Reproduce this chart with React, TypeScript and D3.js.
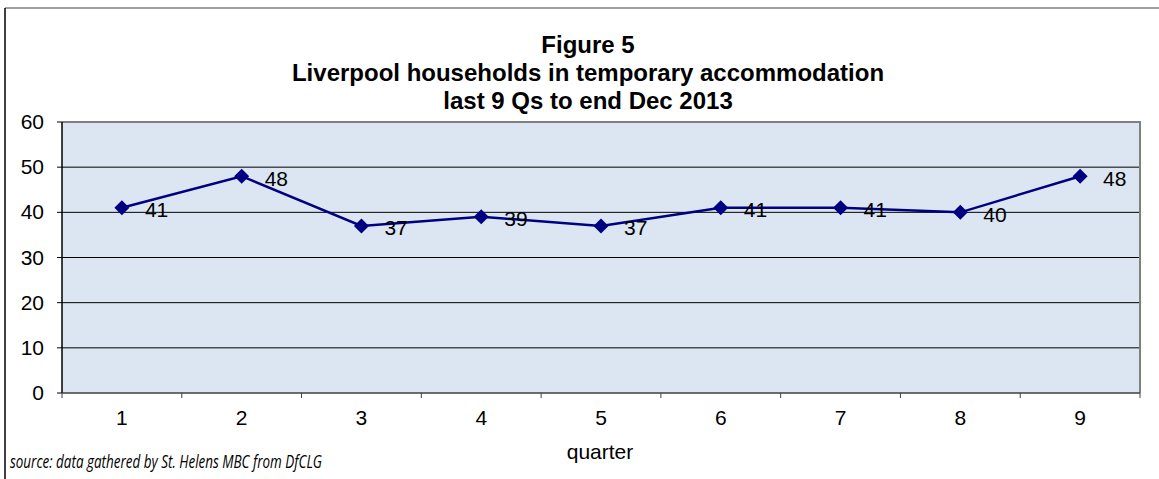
import React from "react";
import * as d3 from "d3";

const quarters = ["1", "2", "3", "4", "5", "6", "7", "8", "9"];
const households = [41, 48, 37, 39, 37, 41, 41, 40, 48];
const yTicks = [0, 10, 20, 30, 40, 50, 60];
const titleLines = [
  "Figure 5",
  "Liverpool households in temporary accommodation",
  "last 9 Qs to end Dec 2013",
];
const xAxisTitle = "quarter";
const sourceNote = "source: data gathered by St. Helens MBC from DfCLG";

export default function App() {
  const W = 1159;
  const H = 479;
  const left = 62;
  const right = 1140;
  const top = 122;
  const bottom = 393;

  const x = d3.scaleBand<string>().domain(quarters).range([left, right]).padding(0);
  const y = d3.scaleLinear().domain([0, 60]).range([bottom, top]);
  const cx = (q: string) => (x(q) as number) + x.bandwidth() / 2;

  const line = d3
    .line<number>()
    .x((_, i) => cx(quarters[i]))
    .y((d) => y(d));

  const boundaries = quarters.map((q) => x(q) as number).concat([right]);
  const font = "Arial, 'Liberation Sans', sans-serif";

  return (
    <svg
      width={W}
      height={H}
      style={{ position: "absolute", left: 0, top: 0, display: "block" }}
    >
      <rect x={0} y={0} width={W} height={H} fill="#ffffff" />
      {/* outer frame */}
      <line x1={5} y1={8} x2={W + 5} y2={8} stroke="#808080" strokeWidth={1.5} />
      <line x1={5} y1={8} x2={5} y2={H + 5} stroke="#000000" strokeWidth={1.5} />

      {/* title */}
      {titleLines.map((t, i) => (
        <text
          key={i}
          x={588}
          y={53 + i * 28}
          textAnchor="middle"
          fontFamily={font}
          fontWeight="bold"
          fontSize={24}
          fill="#000"
        >
          {t}
        </text>
      ))}

      {/* plot area */}
      <rect x={left} y={top} width={right - left} height={bottom - top} fill="#dce6f2" />
      {yTicks
        .filter((v) => v > 0 && v < 60)
        .map((v) => (
          <line key={v} x1={left} x2={right} y1={y(v)} y2={y(v)} stroke="#000" strokeWidth={1} />
        ))}
      <line x1={left} x2={right + 1} y1={top} y2={top} stroke="#808080" strokeWidth={2} />
      <line x1={right} x2={right} y1={top} y2={bottom} stroke="#808080" strokeWidth={2} />

      {/* y axis */}
      <line x1={left} x2={left} y1={top} y2={bottom} stroke="#000" strokeWidth={1.5} />
      {yTicks.map((v) => (
        <g key={v}>
          <line x1={left - 5} x2={left} y1={y(v)} y2={y(v)} stroke="#000" strokeWidth={1} />
          <text
            x={44}
            y={y(v) + 7}
            textAnchor="end"
            fontFamily={font}
            fontSize={21}
            fill="#000"
          >
            {v}
          </text>
        </g>
      ))}

      {/* x axis */}
      <line x1={left} x2={right} y1={bottom} y2={bottom} stroke="#404040" strokeWidth={1.5} />
      {boundaries.map((b, i) => (
        <line key={i} x1={b} x2={b} y1={bottom} y2={bottom + 5} stroke="#404040" strokeWidth={1} />
      ))}
      {quarters.map((q) => (
        <text
          key={q}
          x={cx(q)}
          y={425}
          textAnchor="middle"
          fontFamily={font}
          fontSize={21}
          fill="#000"
        >
          {q}
        </text>
      ))}
      <text x={600} y={459} textAnchor="middle" fontFamily={font} fontSize={21} fill="#000">
        {xAxisTitle}
      </text>

      {/* series */}
      <path d={line(households) || ""} fill="none" stroke="#000080" strokeWidth={2.5} />
      {households.map((v, i) => {
        const px = cx(quarters[i]);
        const py = y(v);
        const r = 7.5;
        return (
          <g key={i}>
            <path
              d={`M${px},${py - r}L${px + r},${py}L${px},${py + r}L${px - r},${py}Z`}
              fill="#000080"
            />
            <text x={px + 23} y={py + 9.5} fontFamily={font} fontSize={21} fill="#000">
              {v}
            </text>
          </g>
        );
      })}

      {/* source */}
      <text
        x={10}
        y={468}
        fontFamily="'Open Sans', sans-serif"
        fontStyle="italic"
        fontSize={18}
        textLength={312}
        lengthAdjust="spacingAndGlyphs"
        fill="#000"
      >
        {sourceNote}
      </text>
    </svg>
  );
}
